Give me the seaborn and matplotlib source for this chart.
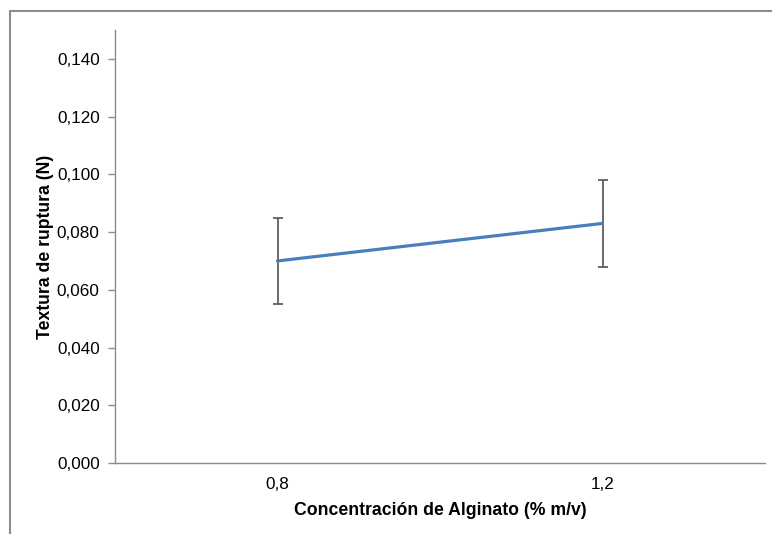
import matplotlib
matplotlib.use("Agg")
import matplotlib.pyplot as plt
from matplotlib.lines import Line2D
from matplotlib.ticker import FuncFormatter, MultipleLocator
import seaborn as sns
import pandas as pd
import numpy as np

# Alginate concentration groups and measured rupture texture
concentraciones = ["0,8", "1,2"]
textura = [0.070, 0.083]
desviacion = [0.015, 0.015]

sns.set_style("white")
plt.rcParams["font.family"] = ["Liberation Sans", "DejaVu Sans"]
plt.rcParams["text.color"] = "black"
plt.rcParams["axes.labelcolor"] = "black"

fig = plt.figure(figsize=(7.72, 5.34), dpi=100)
ax = fig.add_axes([115 / 772, 71 / 534, 650 / 772, 433 / 534])

df = pd.DataFrame({"conc": concentraciones, "textura": textura})
sns.lineplot(data=df, x="conc", y="textura", ax=ax, color="#4A7EBB",
             linewidth=2.3, sort=False, errorbar=None)

pos = np.arange(len(concentraciones))
ax.errorbar(pos, textura, yerr=desviacion, fmt="none", ecolor="#5f5f5f",
            elinewidth=1.3, capsize=3.3, capthick=1.3, zorder=1)

ax.set_xlim(-0.5, len(concentraciones) - 0.5)
ax.set_ylim(0, 0.150)
ax.yaxis.set_major_locator(MultipleLocator(0.02))
ax.yaxis.set_major_formatter(
    FuncFormatter(lambda v, _: f"{v:.3f}".replace(".", ",")))
ax.set_xticks(pos)
ax.set_xticklabels(concentraciones)

for side in ("top", "right"):
    ax.spines[side].set_visible(False)
for side in ("left", "bottom"):
    ax.spines[side].set_color("#8c8c8c")
    ax.spines[side].set_linewidth(1.0)

ax.tick_params(axis="y", which="major", direction="out", length=5,
               width=1.0, color="#8c8c8c", labelsize=12.3, pad=6,
               left=True, labelcolor="black")
ax.tick_params(axis="x", length=0, labelsize=12.3, pad=10,
               labelcolor="black")

ax.set_xlabel("Concentración de Alginato (% m/v)", fontsize=12.7,
              fontweight="bold", labelpad=7.5)
ax.set_ylabel("Textura de ruptura (N)", fontsize=12.7,
              fontweight="bold", labelpad=2)

# Frame around the chart area
frame_col = "#8c8c8c"
fig.add_artist(Line2D([10 / 772, 10 / 772], [0, 1 - 11 / 534],
                      transform=fig.transFigure, color=frame_col, lw=1.5))
fig.add_artist(Line2D([10 / 772, 1], [1 - 11 / 534, 1 - 11 / 534],
                      transform=fig.transFigure, color=frame_col, lw=1.5))

fig.savefig("out.png", dpi=100)
